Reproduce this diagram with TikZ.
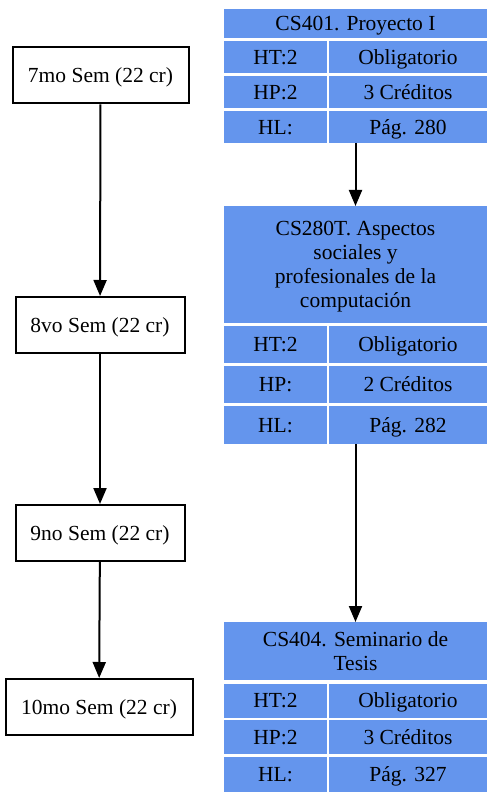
\documentclass[tikz,border=0pt]{standalone}
\usepackage{fontspec}
\setmainfont{Liberation Serif}
\usetikzlibrary{arrows.meta,fit}
\definecolor{cellblue}{RGB}{100,149,237}
\begin{document}
\begin{tikzpicture}[x=1pt,y=-1pt,
  txt/.style={font=\fontsize{21.5}{24}\selectfont, text=black, text depth=0pt},
  cell/.style={txt, fill=cellblue, inner sep=0pt, outer sep=0pt, align=center},
  lc/.style={cell, minimum width=103pt},
  rc/.style={cell, minimum width=158pt},
  tc/.style={cell, minimum width=263pt},
  sem/.style={txt, draw=black, line width=2pt, inner sep=0pt, minimum height=56pt},
  grp/.style={inner sep=0pt, outer sep=0pt},
  link/.style={-{Triangle[length=16pt,width=13pt]}, line width=2pt, draw=black}]
\fill[white] (0,0) rectangle (495,802);
\useasboundingbox (0,0) rectangle (495,802);

% semester boxes
\node[sem, minimum width=176pt] (s7) at (100.5,75.5) {7mo Sem (22 cr)};
\node[sem, minimum width=169pt] (s8) at (100,325) {8vo Sem (22 cr)};
\node[sem, minimum width=169pt] (s9) at (100,533) {9no Sem (22 cr)};
\node[sem, minimum width=187pt] (s10) at (99,707) {10mo Sem (22 cr)};

\draw[link] (s7) -- (s8);
\draw[link] (s8) -- (s9);
\draw[link] (s9) -- (s10);

% table 1
\node[tc, minimum height=29pt] (a0) at (355.5,23.5) {CS401. Proyecto I};
\node[lc, minimum height=32pt] (a1l) at (275.5,57) {HT:2};
\node[rc, minimum height=32pt] (a1r) at (408,57) {Obligatorio};
\node[lc, minimum height=32pt] (a2l) at (275.5,92) {HP:2};
\node[rc, minimum height=32pt] (a2r) at (408,92) {3 Créditos};
\node[lc, minimum height=32pt] (a3l) at (275.5,127) {HL:};
\node[rc, minimum height=32pt] (a3r) at (408,127) {Pág. 280};
\node[grp, fit=(a0)(a3l)(a3r)] (T1) {};

% table 2
\node[tc, minimum height=117pt] (b0) at (355.5,264.5) {CS280T. Aspectos\\sociales y\\profesionales de la\\computación};
\node[lc, minimum height=37pt] (b1l) at (275.5,344.5) {HT:2};
\node[rc, minimum height=37pt] (b1r) at (408,344.5) {Obligatorio};
\node[lc, minimum height=37pt] (b2l) at (275.5,384.5) {HP:};
\node[rc, minimum height=37pt] (b2r) at (408,384.5) {2 Créditos};
\node[lc, minimum height=38pt] (b3l) at (275.5,425) {HL:};
\node[rc, minimum height=38pt] (b3r) at (408,425) {Pág. 282};
\node[grp, fit=(b0)(b3l)(b3r)] (T2) {};

% table 3
\node[tc, minimum height=58pt] (c0) at (355.5,651) {CS404. Seminario de\\Tesis};
\node[lc, minimum height=34pt] (c1l) at (275.5,700.5) {HT:2};
\node[rc, minimum height=34pt] (c1r) at (408,700.5) {Obligatorio};
\node[lc, minimum height=34pt] (c2l) at (275.5,737) {HP:2};
\node[rc, minimum height=34pt] (c2r) at (408,737) {3 Créditos};
\node[lc, minimum height=35pt] (c3l) at (275.5,774) {HL:};
\node[rc, minimum height=35pt] (c3r) at (408,774) {Pág. 327};
\node[grp, fit=(c0)(c3l)(c3r)] (T3) {};

\draw[link] (T1.south) -- (T2.north);
\draw[link] (T2.south) -- (T3.north);
\end{tikzpicture}
\end{document}
